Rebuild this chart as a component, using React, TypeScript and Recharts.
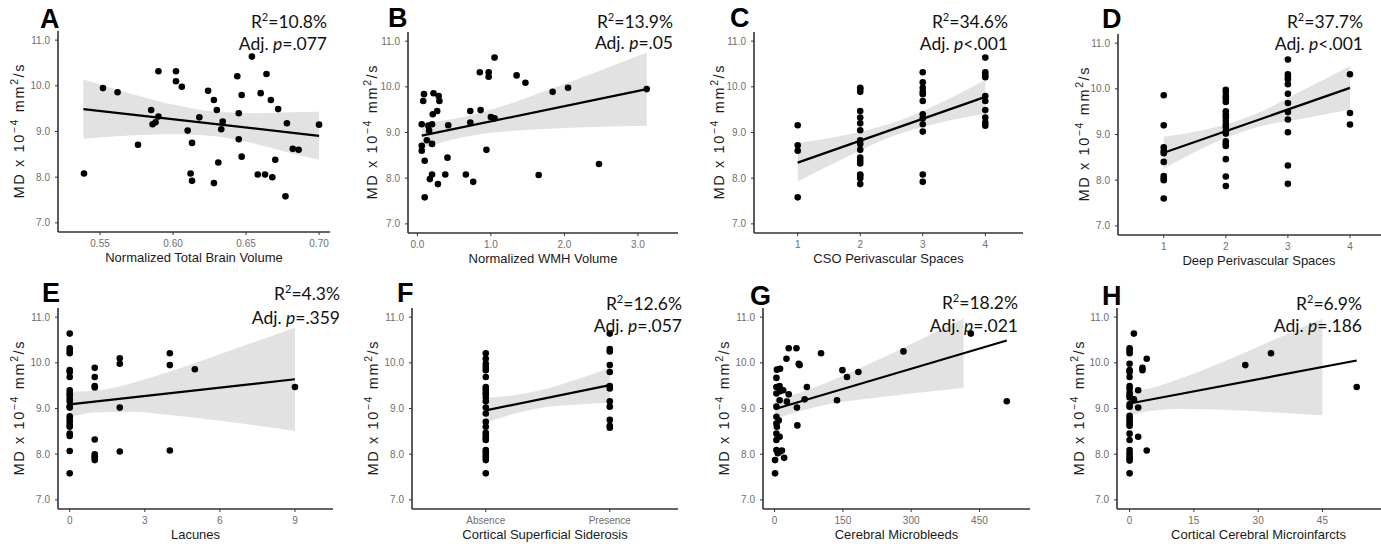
import React from 'react';
import { ComposedChart, Scatter, Line, Area, XAxis, YAxis } from 'recharts';

const AXIS_FONT = '"Liberation Sans", Arial, Helvetica, sans-serif';
const NOTE_FONT = 'Lato, "Open Sans", sans-serif';

// shared y scale (MD x 10^-4 mm^2/s)
const Y_DOMAIN: [number, number] = [6.8, 11.2];
const Y_TICKS = [7, 8, 9, 10, 11];

// A - normalized total brain volume
const tbvX = [0.539, 0.552, 0.562, 0.576, 0.585, 0.586, 0.588, 0.59, 0.59, 0.602, 0.602, 0.606, 0.61, 0.612, 0.613, 0.613, 0.618, 0.624, 0.628, 0.628, 0.63, 0.631, 0.634, 0.633, 0.644, 0.645, 0.645, 0.647, 0.647, 0.654, 0.658, 0.66, 0.664, 0.663, 0.667, 0.668, 0.67, 0.672, 0.677, 0.678, 0.682, 0.686, 0.7];
const tbvMD = [8.08, 9.95, 9.86, 8.71, 9.47, 9.16, 9.2, 9.33, 10.32, 10.32, 10.1, 9.98, 9.02, 8.08, 7.92, 8.75, 9.31, 9.89, 9.69, 7.87, 9.47, 8.32, 9.22, 9.05, 10.21, 9.4, 8.83, 9.8, 8.45, 10.64, 8.06, 9.84, 10.26, 8.06, 9.69, 8.0, 8.38, 9.49, 7.58, 9.18, 8.62, 8.6, 9.15];
const tbvFitX = [0.5386, 0.7];
const tbvFitY = [9.49, 8.905];
const tbvBandX = [0.5386, 0.57, 0.6, 0.627, 0.66, 0.68, 0.7];
const tbvBandLo = [8.84, 8.91, 8.94, 8.9, 8.7, 8.53, 8.38];
const tbvBandHi = [10.14, 9.84, 9.59, 9.44, 9.4, 9.42, 9.43];

// B - normalized WMH volume
const wmhX = [0.06, 0.06, 0.06, 0.09, 0.08, 0.1, 0.1, 0.13, 0.15, 0.16, 0.17, 0.2, 0.2, 0.2, 0.22, 0.21, 0.27, 0.29, 0.3, 0.28, 0.38, 0.41, 0.42, 0.66, 0.72, 0.72, 0.76, 0.85, 0.86, 0.94, 0.97, 0.97, 1.0, 1.05, 1.05, 1.35, 1.47, 1.65, 1.84, 2.05, 2.47, 3.12];
const wmhMD = [9.18, 8.71, 8.6, 9.84, 9.69, 8.38, 7.58, 8.83, 9.15, 9.04, 7.98, 8.08, 8.75, 9.18, 9.86, 9.4, 9.47, 9.8, 9.69, 7.87, 8.08, 8.45, 9.16, 8.08, 9.47, 9.22, 7.92, 10.32, 9.49, 8.62, 10.32, 10.22, 9.34, 9.31, 10.64, 10.25, 10.09, 8.07, 9.89, 9.98, 8.31, 9.95];
const wmhFitX = [0.06, 3.12];
const wmhFitY = [8.93, 9.95];
const wmhBandX = [0.06, 0.6, 1.2, 1.8, 2.4, 3.12];
const wmhBandLo = [8.655, 8.89, 9.02, 9.08, 9.12, 9.15];
const wmhBandHi = [9.205, 9.33, 9.6, 9.94, 10.3, 10.75];

// C - CSO perivascular spaces
const csoX = [1, 1, 1, 1, 2, 2, 2, 2, 2, 2, 2, 2, 2, 2, 2, 2, 2, 2, 2, 2, 2, 3, 3, 3, 3, 3, 3, 3, 3, 3, 3, 3, 3, 4, 4, 4, 4, 4, 4, 4, 4, 4, 4];
const csoMD = [9.16, 8.72, 8.6, 7.58, 9.98, 9.95, 9.89, 9.47, 9.33, 9.2, 9.05, 8.83, 8.75, 8.62, 8.45, 8.38, 8.32, 8.08, 8.06, 8.0, 7.87, 10.32, 10.1, 9.98, 9.89, 9.84, 9.69, 9.4, 9.31, 9.18, 9.02, 8.08, 7.92, 10.64, 10.32, 10.26, 10.21, 9.8, 9.69, 9.49, 9.33, 9.22, 9.15];
const csoFitX = [1, 4];
const csoFitY = [8.34, 9.78];
const csoBandX = [1, 1.75, 2.5, 3.25, 4];
const csoBandLo = [7.93, 8.44, 8.91, 9.21, 9.41];
const csoBandHi = [8.77, 8.94, 9.2, 9.63, 10.15];

// D - deep perivascular spaces
const deepX = [1, 1, 1, 1, 1, 1, 1, 1, 1, 1, 2, 2, 2, 2, 2, 2, 2, 2, 2, 2, 2, 2, 2, 2, 2, 2, 2, 2, 2, 3, 3, 3, 3, 3, 3, 3, 3, 3, 3, 3, 3, 4, 4, 4];
const deepMD = [9.86, 9.2, 8.72, 8.64, 8.59, 8.4, 8.09, 8.04, 8.0, 7.6, 9.98, 9.93, 9.84, 9.78, 9.71, 9.51, 9.44, 9.38, 9.3, 9.22, 9.16, 9.07, 9.02, 8.85, 8.8, 8.75, 8.46, 8.08, 7.87, 10.64, 10.32, 10.26, 10.21, 10.1, 9.89, 9.69, 9.49, 9.33, 9.05, 8.32, 7.92, 10.32, 9.47, 9.22];
const deepFitX = [1, 4];
const deepFitY = [8.6, 10.02];
const deepBandX = [1, 1.75, 2.5, 3.25, 4];
const deepBandLo = [8.25, 8.78, 9.16, 9.35, 9.54];
const deepBandHi = [8.95, 9.13, 9.46, 9.98, 10.5];

// E - lacunes
const lacX = [0, 0, 0, 0, 0, 0, 0, 0, 0, 0, 0, 0, 0, 0, 0, 0, 0, 0, 0, 0, 0, 0, 0, 1, 1, 1, 1, 1, 1, 1, 1, 1, 2, 2, 2, 2, 4, 4, 4, 5, 9];
const lacMD = [10.64, 10.32, 10.26, 10.21, 9.84, 9.8, 9.69, 9.4, 9.33, 9.29, 9.22, 9.16, 9.05, 9.02, 8.83, 8.77, 8.71, 8.64, 8.6, 8.45, 8.4, 8.07, 7.58, 9.89, 9.69, 9.49, 9.46, 8.32, 8.0, 7.95, 7.92, 7.87, 10.1, 9.98, 9.02, 8.06, 10.21, 9.95, 8.08, 9.86, 9.47];
const lacFitX = [0, 9];
const lacFitY = [9.09, 9.64];
const lacBandX = [0, 1, 2.5, 4, 6, 9];
const lacBandLo = [8.81, 8.91, 8.93, 8.86, 8.73, 8.51];
const lacBandHi = [9.37, 9.39, 9.56, 9.81, 10.19, 10.77];

// F - cortical superficial siderosis (0 = absence, 1 = presence)
const cssLabels = ['Absence', 'Presence'];
const cssX = [0, 0, 0, 0, 0, 0, 0, 0, 0, 0, 0, 0, 0, 0, 0, 0, 0, 0, 0, 0, 0, 0, 0, 0, 0, 0, 1, 1, 1, 1, 1, 1, 1, 1, 1, 1, 1, 1];
const cssMD = [10.21, 10.09, 9.98, 9.91, 9.84, 9.69, 9.47, 9.42, 9.36, 9.31, 9.24, 9.16, 9.02, 8.89, 8.71, 8.6, 8.47, 8.41, 8.35, 8.31, 8.09, 8.04, 7.98, 7.93, 7.87, 7.58, 10.64, 10.3, 10.25, 9.95, 9.8, 9.49, 9.44, 9.16, 9.04, 8.75, 8.62, 8.58];
const cssFitX = [0, 1];
const cssFitY = [8.96, 9.51];
const cssBandX = [0, 0.25, 0.5, 0.75, 1];
const cssBandLo = [8.69, 8.9, 9.04, 9.09, 9.12];
const cssBandHi = [9.23, 9.3, 9.44, 9.65, 9.9];

// G - cerebral microbleeds
const cmbX = [1, 1, 4, 7, 12, 21, 16, 4, 4, 5, 4, 9, 4, 4, 4, 4, 4, 5, 12, 11, 12, 11, 11, 19, 27, 31, 26, 31, 48, 49, 50, 53, 55, 66, 71, 102, 137, 149, 159, 184, 283, 431, 510];
const cmbMD = [7.58, 7.87, 8.09, 8.02, 8.06, 7.92, 8.08, 8.31, 8.45, 8.6, 8.67, 8.74, 8.82, 9.04, 9.33, 9.47, 9.67, 9.85, 9.87, 9.49, 9.38, 9.18, 8.38, 9.4, 9.15, 9.31, 10.09, 10.32, 10.32, 9.02, 8.63, 9.98, 9.95, 9.2, 9.47, 10.21, 9.18, 9.84, 9.69, 9.8, 10.25, 10.64, 9.16];
const cmbFitX = [1, 510];
const cmbFitY = [8.99, 10.49];
const cmbBandX = [1, 50, 120, 200, 300, 415];
const cmbBandLo = [8.77, 8.93, 9.1, 9.21, 9.33, 9.45];
const cmbBandHi = [9.21, 9.33, 9.59, 9.94, 10.41, 10.97];

// H - cortical cerebral microinfarcts
const cmiX = [0, 0, 0, 0, 0, 0, 0, 0, 0, 0, 0, 0, 0, 0, 0, 0, 0, 0, 0, 0, 0, 0, 0, 0, 0, 0, 0, 1, 1, 1, 2, 2, 2, 3, 3, 4, 4, 27, 33, 53];
const cmiMD = [10.32, 10.27, 10.21, 9.98, 9.84, 9.8, 9.69, 9.49, 9.44, 9.35, 9.29, 9.24, 9.09, 9.04, 8.84, 8.78, 8.73, 8.67, 8.62, 8.45, 8.31, 8.09, 8.02, 7.96, 7.91, 7.86, 7.58, 10.64, 9.18, 9.2, 9.4, 9.02, 8.38, 9.89, 9.84, 10.09, 8.08, 9.95, 10.21, 9.47];
const cmiFitX = [0, 53];
const cmiFitY = [9.11, 10.05];
const cmiBandX = [0, 5, 12, 22, 33, 45];
const cmiBandLo = [8.84, 8.95, 8.99, 8.97, 8.92, 8.85];
const cmiBandHi = [9.38, 9.45, 9.66, 10.03, 10.48, 10.97];

// panel annotations
const panelLetters = ['A', 'B', 'C', 'D', 'E', 'F', 'G', 'H'];
const r2Values = ['10.8%', '13.9%', '34.6%', '37.7%', '4.3%', '12.6%', '18.2%', '6.9%'];
const pValues = ['=.077', '=.05', '<.001', '<.001', '=.359', '=.057', '=.021', '=.186'];

const pts = (xs: number[], ys: number[]) => xs.map((x, i) => ({ x, y: ys[i] }));
const band = (xs: number[], lo: number[], hi: number[]) => xs.map((x, i) => ({ x, band: [lo[i], hi[i]] }));

type Panel = {
  box: [number, number, number, number];
  xDomain: [number, number];
  xTicks: number[];
  fmt: (v: number) => string;
  xTitle: string;
  yGap: number;
  points: { x: number; y: number }[];
  fit: { x: number; y: number }[];
  band: { x: number; band: number[] }[];
  letter: [number, number];
  stat: [number, number, number];
};

const panels: Panel[] = [
  { box: [58, 31, 330, 232], xDomain: [0.5212, 0.7075], xTicks: [0.55, 0.6, 0.65, 0.7], fmt: (v) => v.toFixed(2), xTitle: 'Normalized Total Brain Volume', yGap: 34, points: pts(tbvX, tbvMD), fit: pts(tbvFitX, tbvFitY), band: band(tbvBandX, tbvBandLo, tbvBandHi), letter: [40, 28], stat: [327, 28, 50] },
  { box: [408, 32, 678, 233], xDomain: [-0.127, 3.545], xTicks: [0, 1, 2, 3], fmt: (v) => v.toFixed(1), xTitle: 'Normalized WMH Volume', yGap: 31, points: pts(wmhX, wmhMD), fit: pts(wmhFitX, wmhFitY), band: band(wmhBandX, wmhBandLo, wmhBandHi), letter: [388, 27], stat: [673, 28, 49] },
  { box: [754, 32, 1023, 233], xDomain: [0.301, 4.603], xTicks: [1, 2, 3, 4], fmt: (v) => String(v), xTitle: 'CSO Perivascular Spaces', yGap: 30, points: pts(csoX, csoMD), fit: pts(csoFitX, csoFitY), band: band(csoBandX, csoBandLo, csoBandHi), letter: [730, 27], stat: [1008, 28, 50] },
  { box: [1118, 34, 1400, 235], xDomain: [0.263, 4.806], xTicks: [1, 2, 3, 4], fmt: (v) => String(v), xTitle: 'Deep Perivascular Spaces', yGap: 29, points: pts(deepX, deepMD), fit: pts(deepFitX, deepFitY), band: band(deepBandX, deepBandLo, deepBandHi), letter: [1102, 28], stat: [1363, 28, 50] },
  { box: [58, 308, 333, 509], xDomain: [-0.468, 10.52], xTicks: [0, 3, 6, 9], fmt: (v) => String(v), xTitle: 'Lacunes', yGap: 34, points: pts(lacX, lacMD), fit: pts(lacFitX, lacFitY), band: band(lacBandX, lacBandLo, lacBandHi), letter: [42, 302], stat: [340, 300, 324] },
  { box: [412, 308, 678, 509], xDomain: [-0.595, 1.55], xTicks: [0, 1], fmt: (v) => cssLabels[v] ?? '', xTitle: 'Cortical Superficial Siderosis', yGap: 34, points: pts(cssX, cssMD), fit: pts(cssFitX, cssFitY), band: band(cssBandX, cssBandLo, cssBandHi), letter: [397, 302], stat: [682, 310, 332] },
  { box: [763, 308, 1030, 509], xDomain: [-25.5, 561], xTicks: [0, 150, 300, 450], fmt: (v) => String(v), xTitle: 'Cerebral Microbleeds', yGap: 34, points: pts(cmbX, cmbMD), fit: pts(cmbFitX, cmbFitY), band: band(cmbBandX, cmbBandLo, cmbBandHi), letter: [750, 305], stat: [1018, 309, 332] },
  { box: [1117, 308, 1400, 509], xDomain: [-2.94, 63.1], xTicks: [0, 15, 30, 45, 60], fmt: (v) => String(v), xTitle: 'Cortical Cerebral Microinfarcts', yGap: 33, points: pts(cmiX, cmiMD), fit: pts(cmiFitX, cmiFitY), band: band(cmiBandX, cmiBandLo, cmiBandHi), letter: [1102, 305], stat: [1362, 310, 332] },
];

const AXIS_W = 56;
const TOP_PAD = 4;
const X_AXIS_H = 44;
const TICK_STYLE = { fill: '#6e6e6e', fontSize: 10, fontFamily: AXIS_FONT };

function YTitle(props: any) {
  const { viewBox, gap } = props;
  const cx = viewBox.x + viewBox.width - gap;
  const cy = viewBox.y + viewBox.height / 2;
  return (
    <text transform={`translate(${cx},${cy}) rotate(-90)`} textAnchor="middle" fontSize={14.5} fill="#1a1a1a" fontFamily={AXIS_FONT} textLength={134} lengthAdjust="spacing">
      MD x 10<tspan dy={-6} fontSize={10.5}>−4</tspan><tspan dy={6}> mm</tspan><tspan dy={-6} fontSize={10.5}>2</tspan><tspan dy={6}>/s</tspan>
    </text>
  );
}

function Dot(props: any) {
  return <circle cx={props.cx} cy={props.cy} r={3.3} fill="#000" />;
}

function PanelChart({ p }: { p: Panel }) {
  const [l, t, r, b] = p.box;
  const left = l - AXIS_W;
  const top = t - TOP_PAD;
  const width = r - left;
  const height = b - top + X_AXIS_H;
  return (
    <div style={{ position: 'absolute', left, top, width, height }}>
      <ComposedChart width={width} height={height} margin={{ top: TOP_PAD, right: 0, bottom: 0, left: 0 }}>
        <XAxis
          type="number"
          dataKey="x"
          domain={p.xDomain}
          ticks={p.xTicks}
          interval={0}
          allowDataOverflow
          tickFormatter={p.fmt}
          height={X_AXIS_H}
          axisLine={{ stroke: '#333', strokeWidth: 1.6 }}
          tickLine={{ stroke: '#333' }}
          tickSize={3}
          tickMargin={5}
          tick={TICK_STYLE}
          label={{ value: p.xTitle, position: 'insideBottom', offset: 14, fill: '#1a1a1a', fontSize: 13, fontFamily: AXIS_FONT }}
        />
        <YAxis
          type="number"
          domain={Y_DOMAIN}
          ticks={Y_TICKS}
          interval={0}
          allowDataOverflow
          width={AXIS_W}
          tickFormatter={(v: number) => v.toFixed(1)}
          axisLine={{ stroke: '#333', strokeWidth: 1.6 }}
          tickLine={{ stroke: '#333' }}
          tickSize={3}
          tickMargin={5}
          tick={TICK_STYLE}
          label={<YTitle gap={p.yGap} />}
        />
        <Area data={p.band} dataKey="band" type="monotone" stroke="none" fill="#e2e2e2" fillOpacity={1} dot={false} activeDot={false} isAnimationActive={false} />
        <Scatter data={p.points} dataKey="y" shape={<Dot />} isAnimationActive={false} />
        <Line data={p.fit} dataKey="y" type="linear" stroke="#000" strokeWidth={2.2} dot={false} activeDot={false} isAnimationActive={false} />
      </ComposedChart>
    </div>
  );
}

export default function App() {
  return (
    <div style={{ position: 'relative', width: 1381, height: 544, overflow: 'hidden', background: '#fff' }}>
      <style>{'html,body{margin:0;padding:0;overflow:hidden;background:#fff;}'}</style>
      {panels.map((p, i) => (
        <PanelChart key={panelLetters[i]} p={p} />
      ))}
      <svg width={1381} height={544} style={{ position: 'absolute', left: 0, top: 0, pointerEvents: 'none' }}>
        {panels.map((p, i) => (
          <g key={panelLetters[i]}>
            <text x={p.letter[0]} y={p.letter[1]} fontSize={27} fontWeight="bold" fontFamily={AXIS_FONT} fill="#000">
              {panelLetters[i]}
            </text>
            <text x={p.stat[0]} y={p.stat[1]} textAnchor="end" fontSize={17.5} fontFamily={NOTE_FONT} fill="#111">
              R<tspan dy={-7} fontSize={11}>2</tspan>
              <tspan dy={7}>={r2Values[i]}</tspan>
            </text>
            <text x={p.stat[0]} y={p.stat[2]} textAnchor="end" fontSize={17.5} fontFamily={NOTE_FONT} fill="#111">
              Adj. <tspan fontStyle="italic">p</tspan>
              {pValues[i]}
            </text>
          </g>
        ))}
      </svg>
    </div>
  );
}
